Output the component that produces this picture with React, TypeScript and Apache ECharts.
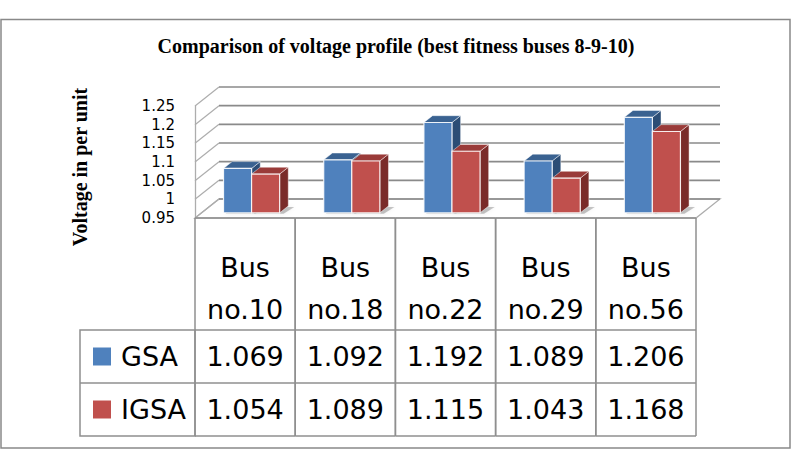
import React, { useEffect, useRef } from "react";
import * as echarts from "echarts";

// ---- data ----
const categories = ["Bus no.10", "Bus no.18", "Bus no.22", "Bus no.29", "Bus no.56"];
const seriesNames = ["GSA", "IGSA"];
const gsaValues = [1.069, 1.092, 1.192, 1.089, 1.206];
const igsaValues = [1.054, 1.089, 1.115, 1.043, 1.168];
const yTicks = [0.95, 1, 1.05, 1.1, 1.15, 1.2, 1.25];
const chartTitle = "Comparison of voltage profile (best fitness buses 8-9-10)";
const yAxisTitle = "Voltage in per unit";

// ---- layout / style ----
const Y_MIN = 0.95;
const Y_MAX = 1.25;
const Y_STEP = 0.05;
const DEPTH_DX = 24; // projection of the full floor depth
const DEPTH_DY = -19;
const BAR_FRONT = 0.27; // bar depth span as a fraction of floor depth
const BAR_BACK = 0.63;
const BAR_WIDTH = 0.28; // fraction of a category band
const HEADER_H = 112;
const ROW_H = 53;
const LEGEND_W = 115;
const GRID_LINE = "#8a8a8a";
const SIDE_LINE = "#adadad";
const TABLE_LINE = "#8f8f8f";
const TABLE_FONT = "27px 'DejaVu Sans'";

const palette = [
  { front: "#4F81BD", top: "#3A6291", side: "#2C4D75" },
  { front: "#C0504D", top: "#9A3B39", side: "#7A2B29" },
];

function wallRenderer(_params: any, api: any) {
  const n = categories.length;
  const bw = api.size([1, 0])[0];
  const xl = api.coord([0, Y_MIN])[0] - bw / 2;
  const xr = api.coord([n - 1, Y_MIN])[0] + bw / 2;
  const y0 = api.coord([0, Y_MIN])[1];
  const children: any[] = [];

  // floor
  children.push({
    type: "polygon",
    shape: {
      points: [
        [xl, y0],
        [xr, y0],
        [xr + DEPTH_DX, y0 + DEPTH_DY],
        [xl + DEPTH_DX, y0 + DEPTH_DY],
      ],
    },
    style: { fill: "#ffffff", stroke: SIDE_LINE, lineWidth: 1.3 },
  });

  yTicks.forEach((t) => {
    const y = api.coord([0, t])[1];
    children.push({
      type: "line",
      shape: { x1: xl, y1: y, x2: xl + DEPTH_DX, y2: y + DEPTH_DY },
      style: { stroke: SIDE_LINE, lineWidth: 1.2 },
    });
    if (t !== Y_MIN) {
      children.push({
        type: "line",
        shape: { x1: xl + DEPTH_DX, y1: y + DEPTH_DY, x2: xr + DEPTH_DX, y2: y + DEPTH_DY },
        style: { stroke: GRID_LINE, lineWidth: 1.6 },
      });
    }
  });
  // back edge of floor
  children.push({
    type: "line",
    shape: { x1: xl + DEPTH_DX, y1: y0 + DEPTH_DY, x2: xr + DEPTH_DX, y2: y0 + DEPTH_DY },
    style: { stroke: GRID_LINE, lineWidth: 1.6 },
  });

  // legend column of the data table
  const lx = xl - LEGEND_W;
  const rowTop = y0 + HEADER_H;
  children.push({
    type: "rect",
    shape: { x: lx, y: rowTop, width: LEGEND_W, height: ROW_H * 2 },
    style: { fill: "none", stroke: TABLE_LINE, lineWidth: 1.5 },
  });
  children.push({
    type: "line",
    shape: { x1: lx, y1: rowTop + ROW_H, x2: xl, y2: rowTop + ROW_H },
    style: { stroke: TABLE_LINE, lineWidth: 1.5 },
  });
  seriesNames.forEach((name, i) => {
    const cy = rowTop + ROW_H * i + ROW_H / 2;
    children.push({
      type: "rect",
      shape: { x: lx + 13, y: cy - 9, width: 18, height: 18 },
      style: { fill: palette[i].front },
    });
    children.push({
      type: "text",
      style: {
        text: name,
        x: lx + 41,
        y: cy,
        font: TABLE_FONT,
        fill: "#000",
        align: "left",
        verticalAlign: "middle",
      },
    });
  });
  return { type: "group", children };
}

function tableRenderer(_params: any, api: any) {
  const cat = api.value(0);
  const bw = api.size([1, 0])[0];
  const c = api.coord([cat, Y_MIN]);
  const xL = c[0] - bw / 2;
  const xR = c[0] + bw / 2;
  const top = c[1];
  const bottom = top + HEADER_H + ROW_H * 2;
  const children: any[] = [];
  const line = (x1: number, y1: number, x2: number, y2: number) => ({
    type: "line",
    shape: { x1, y1, x2, y2 },
    style: { stroke: TABLE_LINE, lineWidth: 1.5 },
  });
  children.push(line(xL, top, xL, bottom));
  children.push(line(xR, top, xR, bottom));
  children.push(line(xL, top, xR, top));
  children.push(line(xL, top + HEADER_H, xR, top + HEADER_H));
  children.push(line(xL, top + HEADER_H + ROW_H, xR, top + HEADER_H + ROW_H));
  children.push(line(xL, bottom, xR, bottom));

  children.push({
    type: "text",
    style: {
      text: categories[cat].split(" ").join("\n"),
      x: c[0],
      y: top + 70,
      font: TABLE_FONT,
      lineHeight: 42,
      fill: "#000",
      align: "center",
      verticalAlign: "middle",
    },
  });
  [gsaValues, igsaValues].forEach((vals, i) => {
    children.push({
      type: "text",
      style: {
        text: vals[cat].toFixed(3),
        x: c[0],
        y: top + HEADER_H + ROW_H * i + ROW_H / 2,
        font: TABLE_FONT,
        fill: "#000",
        align: "center",
        verticalAlign: "middle",
      },
    });
  });
  return { type: "group", children };
}

function barRenderer(seriesIdx: number) {
  return (_params: any, api: any) => {
    const cat = api.value(0);
    const val = api.value(1);
    const base = api.coord([cat, Y_MIN]);
    const tp = api.coord([cat, val]);
    const bw = api.size([1, 0])[0];
    const w = bw * BAR_WIDTH;
    const x0 = base[0] + (seriesIdx === 0 ? -w : 0) + DEPTH_DX * BAR_FRONT;
    const x1 = x0 + w;
    const yb = base[1] + DEPTH_DY * BAR_FRONT;
    const yt = tp[1] + DEPTH_DY * BAR_FRONT;
    const ddx = DEPTH_DX * (BAR_BACK - BAR_FRONT);
    const ddy = DEPTH_DY * (BAR_BACK - BAR_FRONT);
    const col = palette[seriesIdx];
    return {
      type: "group",
      children: [
        {
          type: "polygon",
          shape: {
            points: [
              [x0 + 2, yb + 1],
              [x1 + 4, yb + 1],
              [x1 + ddx + 6, yb + ddy + 1],
              [x0 + ddx, yb + ddy + 1],
            ],
          },
          style: { fill: "rgba(0,0,0,0.22)", shadowBlur: 4, shadowColor: "rgba(0,0,0,0.3)" },
        },
        {
          type: "polygon",
          shape: { points: [[x1, yt], [x1 + ddx, yt + ddy], [x1 + ddx, yb + ddy], [x1, yb]] },
          style: { fill: col.side, stroke: "rgba(255,255,255,0.45)", lineWidth: 1 },
        },
        {
          type: "polygon",
          shape: { points: [[x0, yt], [x0 + ddx, yt + ddy], [x1 + ddx, yt + ddy], [x1, yt]] },
          style: { fill: col.top, stroke: "rgba(255,255,255,0.45)", lineWidth: 1 },
        },
        {
          type: "rect",
          shape: { x: x0, y: yt, width: w, height: yb - yt },
          style: { fill: col.front, stroke: "rgba(255,255,255,0.85)", lineWidth: 1.2 },
        },
      ],
    };
  };
}

export default function App() {
  const ref = useRef<HTMLDivElement>(null);

  useEffect(() => {
    if (!ref.current) return;
    const chart = echarts.init(ref.current, undefined, { renderer: "svg" });
    chart.setOption({
      animation: false,
      backgroundColor: "#ffffff",
      grid: { left: 195, top: 106, width: 501, height: 112, containLabel: false },
      xAxis: {
        type: "category",
        data: categories,
        show: false,
      },
      yAxis: {
        type: "value",
        min: Y_MIN,
        max: Y_MAX,
        interval: Y_STEP,
        axisLine: { show: true, lineStyle: { color: SIDE_LINE, width: 1.3 } },
        axisTick: { show: false },
        splitLine: { show: false },
        axisLabel: {
          margin: 20,
          fontFamily: "DejaVu Sans",
          fontSize: 15,
          color: "#000",
        },
      },
      graphic: [
        {
          type: "rect",
          shape: { x: 1, y: 19.5, width: 789, height: 428.5 },
          style: { fill: "none", stroke: "#898989", lineWidth: 1.5 },
          z: 0,
        },
        {
          type: "text",
          x: 396,
          y: 46,
          style: {
            text: chartTitle,
            font: "bold 20px 'Liberation Serif'",
            fill: "#000",
            align: "center",
            verticalAlign: "middle",
          },
        },
        {
          type: "text",
          x: 80,
          y: 167,
          rotation: Math.PI / 2,
          style: {
            text: yAxisTitle,
            font: "bold 20px 'Liberation Serif'",
            fill: "#000",
            align: "center",
            verticalAlign: "middle",
          },
        },
      ],
      series: [
        {
          type: "custom",
          name: "walls",
          z: 1,
          renderItem: wallRenderer,
          data: [[0]],
          silent: true,
        },
        {
          type: "custom",
          name: "table",
          z: 1,
          renderItem: tableRenderer,
          data: categories.map((_, i) => [i]),
          silent: true,
        },
        {
          type: "custom",
          name: seriesNames[0],
          z: 2,
          renderItem: barRenderer(0),
          data: gsaValues.map((v, i) => [i, v]),
        },
        {
          type: "custom",
          name: seriesNames[1],
          z: 3,
          renderItem: barRenderer(1),
          data: igsaValues.map((v, i) => [i, v]),
        },
      ],
    });
    return () => chart.dispose();
  }, []);

  return (
    <div
      ref={ref}
      style={{ position: "fixed", left: 0, top: 0, width: 799, height: 450, background: "#fff" }}
    />
  );
}
